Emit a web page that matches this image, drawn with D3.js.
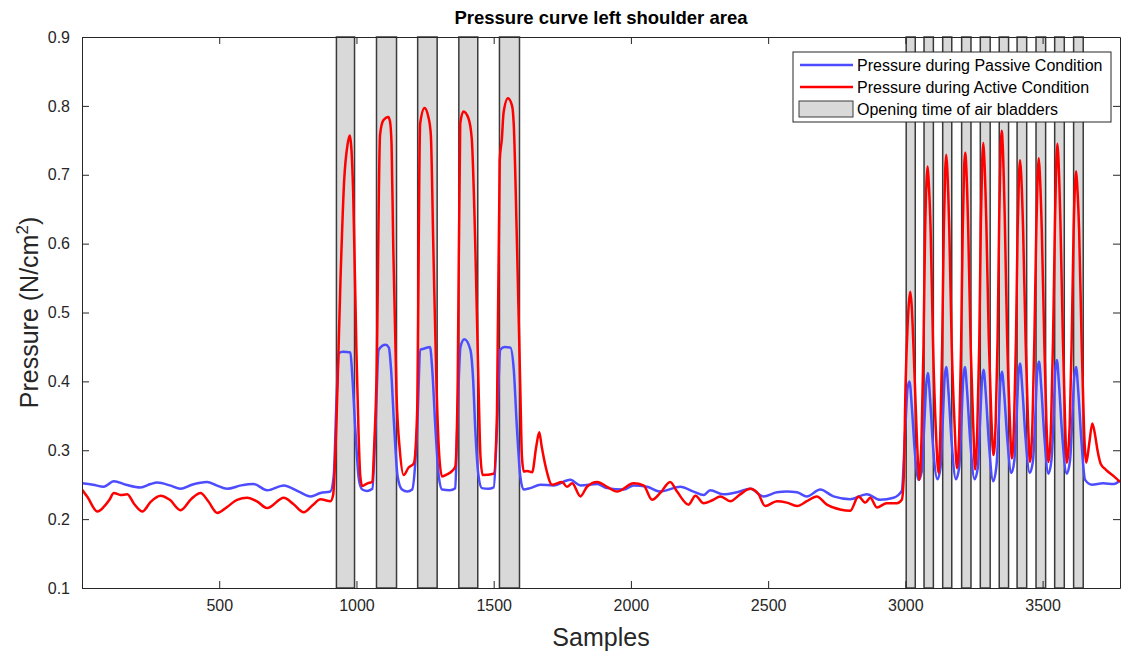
<!DOCTYPE html>
<html>
<head>
<meta charset="utf-8">
<script src="https://cdn.jsdelivr.net/npm/d3@7"></script>
<style>
  body { margin: 0; background: #fff; }
  text { font-family: "Liberation Sans", Arial, sans-serif; }
</style>
</head>
<body>
<div id="chart"></div>
<script>
// samples / pressure
const passive = [
  [0,0.252],[40,0.250],[79,0.247],[116,0.255],[160,0.250],[213,0.246],[250,0.251],[274,0.253],
  [320,0.249],[359,0.244],[400,0.250],[456,0.254],[490,0.249],[529,0.244],[580,0.249],[625,0.251],
  [675,0.242],[735,0.249],[790,0.240],[833,0.233],[869,0.238],[905,0.240],[917,0.262],[928,0.380],
  [936,0.441],[950,0.443],[978,0.442],[984,0.413],[996,0.330],[1009,0.257],[1021,0.243],[1040,0.241],
  [1058,0.244],[1069,0.330],[1081,0.446],[1106,0.453],[1118,0.449],[1126,0.418],[1138,0.330],
  [1150,0.262],[1166,0.243],[1185,0.240],[1203,0.243],[1214,0.280],[1221,0.330],[1233,0.446],
  [1250,0.448],[1268,0.450],[1276,0.418],[1288,0.330],[1300,0.262],[1312,0.243],[1340,0.242],
  [1360,0.245],[1367,0.330],[1379,0.450],[1393,0.461],[1415,0.446],[1425,0.403],[1433,0.330],
  [1445,0.262],[1457,0.245],[1480,0.244],[1500,0.246],[1512,0.330],[1524,0.446],[1540,0.450],
  [1561,0.449],[1573,0.418],[1585,0.330],[1597,0.262],[1609,0.243],[1633,0.245],[1670,0.250],
  [1718,0.249],[1779,0.257],[1816,0.249],[1877,0.251],[1913,0.245],[1974,0.243],[2010,0.249],
  [2059,0.247],[2107,0.240],[2180,0.247],[2228,0.240],[2265,0.235],[2289,0.242],[2338,0.236],
  [2386,0.239],[2435,0.244],[2483,0.233],[2532,0.239],[2568,0.240],[2605,0.239],[2641,0.233],
  [2690,0.243],[2738,0.233],[2799,0.229],[2860,0.236],[2908,0.228],[2957,0.231],[2987,0.241],
  [2999,0.325],[3008,0.390],[3015,0.400],[3024,0.360],[3034,0.300],[3048,0.257],[3060,0.270],
  [3068,0.330],[3076,0.395],[3082,0.412],[3090,0.375],[3100,0.310],[3117,0.258],[3128,0.275],
  [3136,0.340],[3143,0.405],[3149,0.421],[3157,0.385],[3168,0.315],[3184,0.258],[3196,0.275],
  [3204,0.340],[3211,0.405],[3217,0.421],[3225,0.385],[3236,0.315],[3252,0.258],[3264,0.275],
  [3272,0.340],[3279,0.400],[3285,0.417],[3293,0.382],[3304,0.312],[3320,0.255],[3332,0.278],
  [3340,0.340],[3346,0.398],[3352,0.414],[3360,0.382],[3371,0.318],[3386,0.267],[3397,0.285],
  [3405,0.345],[3412,0.410],[3418,0.426],[3426,0.390],[3437,0.322],[3453,0.267],[3465,0.285],
  [3473,0.345],[3480,0.412],[3487,0.429],[3495,0.392],[3506,0.322],[3521,0.266],[3532,0.285],
  [3540,0.345],[3546,0.415],[3552,0.431],[3560,0.394],[3571,0.324],[3588,0.266],[3600,0.285],
  [3608,0.345],[3615,0.405],[3622,0.421],[3630,0.385],[3641,0.316],[3655,0.257],[3680,0.250],
  [3720,0.252],[3760,0.251],[3782,0.256]
];

const active = [
  [0,0.243],[20,0.232],[56,0.211],[80,0.218],[100,0.228],[116,0.238],[140,0.235],[165,0.236],
  [190,0.222],[220,0.211],[250,0.225],[286,0.234],[320,0.228],[359,0.213],[400,0.230],[432,0.238],
  [460,0.226],[493,0.209],[530,0.218],[565,0.228],[602,0.231],[640,0.225],[675,0.216],[735,0.231],
  [770,0.222],[808,0.210],[840,0.220],[869,0.229],[905,0.226],[915,0.235],[927,0.340],[942,0.550],
  [955,0.690],[968,0.745],[976,0.757],[982,0.735],[988,0.675],[1000,0.441],[1008,0.320],[1014,0.262],
  [1021,0.248],[1040,0.252],[1058,0.254],[1064,0.300],[1073,0.402],[1086,0.758],[1098,0.779],
  [1116,0.784],[1122,0.778],[1128,0.743],[1134,0.597],[1146,0.380],[1158,0.300],[1172,0.264],
  [1190,0.275],[1209,0.281],[1221,0.354],[1232,0.774],[1248,0.797],[1262,0.784],[1271,0.758],
  [1280,0.597],[1292,0.389],[1302,0.290],[1312,0.262],[1330,0.265],[1349,0.270],[1360,0.276],
  [1369,0.400],[1378,0.774],[1390,0.792],[1408,0.782],[1420,0.753],[1433,0.597],[1445,0.389],
  [1452,0.290],[1460,0.264],[1500,0.266],[1512,0.354],[1522,0.720],[1530,0.753],[1536,0.790],
  [1552,0.811],[1567,0.800],[1573,0.774],[1585,0.597],[1597,0.389],[1603,0.290],[1610,0.269],
  [1622,0.270],[1640,0.268],[1655,0.305],[1666,0.326],[1675,0.305],[1690,0.275],[1713,0.250],
  [1749,0.254],[1767,0.247],[1786,0.252],[1816,0.233],[1840,0.247],[1877,0.254],[1913,0.247],
  [1949,0.240],[2010,0.252],[2046,0.249],[2077,0.228],[2107,0.238],[2143,0.254],[2168,0.240],
  [2210,0.221],[2235,0.234],[2265,0.223],[2295,0.227],[2326,0.233],[2362,0.226],[2398,0.236],
  [2435,0.244],[2465,0.236],[2489,0.219],[2532,0.226],[2568,0.224],[2605,0.219],[2641,0.226],
  [2677,0.233],[2714,0.221],[2762,0.214],[2799,0.212],[2829,0.233],[2854,0.224],[2872,0.231],
  [2896,0.217],[2932,0.223],[2969,0.223],[2987,0.228],[2994,0.260],[3001,0.400],[3008,0.480],
  [3013,0.515],[3018,0.530],[3023,0.510],[3030,0.446],[3038,0.360],[3045,0.290],[3051,0.257],
  [3059,0.320],[3066,0.450],[3072,0.620],[3077,0.690],[3081,0.712],[3085,0.690],[3092,0.620],
  [3101,0.450],[3111,0.330],[3121,0.267],
  [3127,0.320],[3134,0.450],[3140,0.620],[3145,0.705],[3149,0.729],[3153,0.705],[3160,0.620],
  [3169,0.450],[3179,0.340],[3188,0.274],
  [3196,0.320],[3203,0.450],[3209,0.620],[3214,0.710],[3218,0.732],[3222,0.710],[3229,0.620],
  [3238,0.450],[3247,0.340],[3254,0.272],
  [3262,0.330],[3269,0.450],[3275,0.630],[3280,0.720],[3284,0.746],[3288,0.720],[3295,0.630],
  [3304,0.460],[3313,0.350],[3321,0.293],
  [3329,0.340],[3336,0.460],[3342,0.640],[3347,0.740],[3351,0.764],[3355,0.740],[3362,0.640],
  [3371,0.460],[3380,0.350],[3388,0.288],
  [3396,0.340],[3403,0.460],[3409,0.620],[3414,0.700],[3418,0.721],[3422,0.700],[3429,0.620],
  [3438,0.460],[3447,0.340],[3454,0.283],
  [3463,0.340],[3470,0.460],[3477,0.620],[3482,0.700],[3486,0.724],[3490,0.700],[3497,0.620],
  [3506,0.460],[3514,0.340],[3521,0.283],
  [3531,0.340],[3538,0.460],[3545,0.630],[3550,0.720],[3554,0.745],[3558,0.720],[3565,0.630],
  [3574,0.460],[3582,0.340],[3588,0.282],
  [3599,0.340],[3606,0.460],[3613,0.620],[3618,0.685],[3622,0.705],[3626,0.685],[3633,0.620],
  [3642,0.460],[3651,0.330],[3659,0.282],
  [3670,0.310],[3681,0.339],[3690,0.325],[3700,0.300],[3712,0.280],[3730,0.272],[3760,0.262],
  [3782,0.254]
];

// opening intervals of the air bladders (sample start, sample end)
const bladders = [
  [927,993],[1073,1146],[1223,1294],[1373,1442],[1521,1594],
  [3003,3036],[3068,3102],[3136,3169],[3205,3239],[3273,3309],
  [3342,3376],[3407,3442],[3476,3511],[3544,3579],[3613,3648]
];

const xTicks = [500, 1000, 1500, 2000, 2500, 3000, 3500];
const yTicks = [0.1, 0.2, 0.3, 0.4, 0.5, 0.6, 0.7, 0.8, 0.9];

const legendItems = [
  {label: 'Pressure during Passive Condition', type: 'line', color: '#4d4dff'},
  {label: 'Pressure during Active Condition', type: 'line', color: '#ff0000'},
  {label: 'Opening time of air bladders', type: 'patch', color: '#d9d9d9'}
];

const width = 1122, height = 653;
const margin = {top: 37, right: 2, bottom: 65, left: 82};
const innerW = width - margin.left - margin.right;
const innerH = height - margin.top - margin.bottom;
const axisColor = '#262626';

const svg = d3.select('#chart').append('svg')
    .attr('width', width)
    .attr('height', height);

const x = d3.scaleLinear().domain([0, 3782]).range([0, innerW]);
const y = d3.scaleLinear().domain([0.1, 0.9]).range([innerH, 0]);

svg.append('defs').append('clipPath')
    .attr('id', 'plot-clip')
  .append('rect')
    .attr('width', innerW)
    .attr('height', innerH);

const g = svg.append('g')
    .attr('transform', `translate(${margin.left},${margin.top})`);

// bladder opening bars
g.append('g')
    .selectAll('rect')
    .data(bladders)
    .join('rect')
    .attr('x', d => x(d[0]))
    .attr('width', d => x(d[1]) - x(d[0]))
    .attr('y', y(0.9))
    .attr('height', y(0.1) - y(0.9))
    .attr('fill', '#d9d9d9')
    .attr('stroke', '#3a3a3a')
    .attr('stroke-width', 1.5);

const line = d3.line()
    .x(d => x(d[0]))
    .y(d => y(d[1]))
    .curve(d3.curveMonotoneX);

const lines = g.append('g').attr('clip-path', 'url(#plot-clip)');

lines.append('path')
    .datum(passive)
    .attr('d', line)
    .attr('fill', 'none')
    .attr('stroke', '#4d4dff')
    .attr('stroke-width', 2.5)
    .attr('stroke-linejoin', 'round');

lines.append('path')
    .datum(active)
    .attr('d', line)
    .attr('fill', 'none')
    .attr('stroke', '#ff0000')
    .attr('stroke-width', 2.5)
    .attr('stroke-linejoin', 'round');

// axes with ticks mirrored on all four sides
const tickLen = 7;
const xBottom = g.append('g')
    .attr('transform', `translate(0,${innerH})`)
    .call(d3.axisBottom(x).tickValues(xTicks).tickSizeInner(-tickLen).tickSizeOuter(0).tickPadding(12)
      .tickFormat(d3.format('d')));
const xTop = g.append('g')
    .call(d3.axisTop(x).tickValues(xTicks).tickSizeInner(-tickLen).tickSizeOuter(0).tickFormat(''));
const yLeft = g.append('g')
    .call(d3.axisLeft(y).tickValues(yTicks).tickSizeInner(-tickLen).tickSizeOuter(0).tickPadding(12)
      .tickFormat(d3.format('.1f')));
const yRight = g.append('g')
    .attr('transform', `translate(${innerW},0)`)
    .call(d3.axisRight(y).tickValues(yTicks).tickSizeInner(-tickLen).tickSizeOuter(0).tickFormat(''));

[xBottom, xTop, yLeft, yRight].forEach(a => {
  a.select('.domain').attr('stroke', axisColor).attr('stroke-width', 1);
  a.selectAll('.tick line').attr('stroke', axisColor).attr('stroke-width', 1);
  a.selectAll('.tick text')
      .attr('fill', axisColor)
      .style('font-size', '16px')
      .style('font-family', '"Liberation Sans", Arial, sans-serif');
});

// title and axis labels
svg.append('text')
    .attr('x', margin.left + innerW / 2)
    .attr('y', 24)
    .attr('text-anchor', 'middle')
    .style('font-size', '18.5px')
    .style('font-weight', 'bold')
    .attr('fill', '#000')
    .text('Pressure curve left shoulder area');

svg.append('text')
    .attr('x', margin.left + innerW / 2)
    .attr('y', 646)
    .attr('text-anchor', 'middle')
    .style('font-size', '25px')
    .attr('fill', axisColor)
    .text('Samples');

const yLabel = svg.append('text')
    .attr('transform', `translate(38,${margin.top + innerH / 2}) rotate(-90)`)
    .attr('text-anchor', 'middle')
    .style('font-size', '25px')
    .attr('fill', axisColor);
yLabel.append('tspan').text('Pressure (N/cm');
yLabel.append('tspan').attr('dy', -10).style('font-size', '17px').text('2');
yLabel.append('tspan').attr('dy', 10).text(')');

// legend
const legend = svg.append('g').attr('transform', 'translate(793,52)');
legend.append('rect')
    .attr('width', 318)
    .attr('height', 70)
    .attr('fill', '#fff')
    .attr('stroke', axisColor)
    .attr('stroke-width', 1);

const rowY = [13, 35, 57];
legendItems.forEach((item, i) => {
  const row = legend.append('g').attr('transform', `translate(0,${rowY[i]})`);
  if (item.type === 'line') {
    row.append('line')
        .attr('x1', 7).attr('x2', 60)
        .attr('stroke', item.color)
        .attr('stroke-width', 2.5);
  } else {
    row.append('rect')
        .attr('x', 6).attr('y', -8)
        .attr('width', 54).attr('height', 16)
        .attr('fill', item.color)
        .attr('stroke', '#3a3a3a')
        .attr('stroke-width', 1);
  }
  row.append('text')
      .attr('x', 64)
      .attr('y', 6)
      .style('font-size', '16px')
      .attr('fill', '#000')
      .text(item.label);
});
</script>
</body>
</html>
